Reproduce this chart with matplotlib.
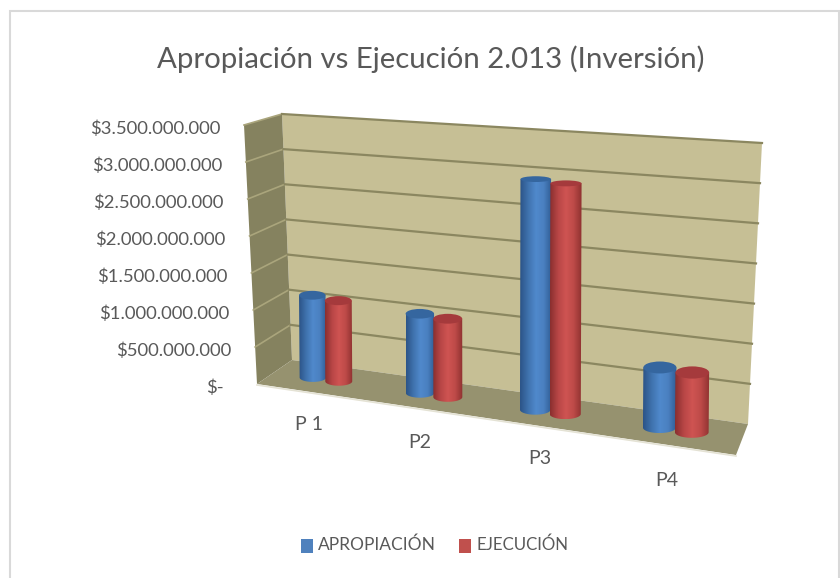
import matplotlib
matplotlib.use("Agg")
import matplotlib.pyplot as plt
import numpy as np
from matplotlib.colors import LinearSegmentedColormap
from matplotlib.patches import Ellipse, PathPatch, Polygon, Rectangle
from matplotlib.path import Path

plt.rcParams["font.family"] = ["Lato", "DejaVu Sans"]

categories = ["P 1", "P2", "P3", "P4"]
apropiacion = [1.13e9, 1.06e9, 3.0e9, 0.76e9]
ejecucion = [1.10e9, 1.04e9, 2.98e9, 0.75e9]
y_ticks = [0, 5e8, 1e9, 1.5e9, 2e9, 2.5e9, 3e9, 3.5e9]
y_labels = ["$-", "$500.000.000", "$1.000.000.000", "$1.500.000.000", "$2.000.000.000",
            "$2.500.000.000", "$3.000.000.000", "$3.500.000.000"]
y_max = 3.5e9

# corners of the 3d box in pixels
back_left = np.array([[292, 360], [282, 114]], dtype=float)
back_right = np.array([[748, 424], [762, 143]], dtype=float)
front_left = np.array([[257, 384], [244, 125]], dtype=float)
front_right = np.array([[736, 455], [751, 172]], dtype=float)

TEXT = "#595959"
WALL = "#c6bf95"
SIDE = "#85825f"
FLOOR = "#96926f"
GRID = "#8b8760"


def persp(u):
    return u / (u + 1.16 * (1 - u))


def project(u, depth, value):
    t = persp(u)
    w = value / y_max
    left = front_left[0] + (front_left[1] - front_left[0]) * w
    left2 = back_left[0] + (back_left[1] - back_left[0]) * w
    right = front_right[0] + (front_right[1] - front_right[0]) * w
    right2 = back_right[0] + (back_right[1] - back_right[0]) * w
    a = left + (left2 - left) * depth
    b = right + (right2 - right) * depth
    return a + (b - a) * t


def draw_cylinder(ax, u, value, colors, top_color):
    bottom = project(u, 0.5, 0)
    top = project(u, 0.5, value)
    # the cylinders hardly lean, unlike the walls
    top[0] = bottom[0] + (top[0] - bottom[0]) * 0.2
    rx = (project(u + 0.032, 0.5, 0)[0] - project(u - 0.032, 0.5, 0)[0]) / 2
    ry = rx * 0.33
    # tall cylinders show a flatter top
    ry_top = rx * (0.42 - 0.27 * value / y_max)

    angles = np.linspace(0, np.pi, 40)
    low = np.column_stack([bottom[0] + rx * np.cos(angles), bottom[1] + ry * np.sin(angles)])
    high = np.array([[top[0] - rx, top[1]], [top[0] + rx, top[1]]])
    verts = np.vstack([low, high, low[:1]])
    body = PathPatch(Path(verts), facecolor="none", edgecolor="none", zorder=3)
    ax.add_patch(body)

    cmap = LinearSegmentedColormap.from_list("c", colors)
    grad = np.linspace(0, 1, 64).reshape(1, -1)
    x0 = min(bottom[0], top[0]) - rx
    x1 = max(bottom[0], top[0]) + rx
    im = ax.imshow(grad, cmap=cmap, extent=[x0, x1, bottom[1] + ry, top[1]], aspect="auto", zorder=3)
    im.set_clip_path(body)
    ax.add_patch(Ellipse(top, 2 * rx, 2 * ry_top, facecolor=top_color, edgecolor="none", zorder=3))


fig = plt.figure(figsize=(8.4, 5.78), dpi=100)
ax = fig.add_axes([0, 0, 1, 1])

# chart border
ax.add_patch(Rectangle((10, 11), 829, 580, facecolor="white", edgecolor="#d9d9d9", linewidth=1.5))

# walls and floor
ax.add_patch(Polygon([back_left[0], back_left[1], back_right[1], back_right[0]], facecolor=WALL, edgecolor="none"))
ax.add_patch(Polygon([front_left[0], front_left[1], back_left[1], back_left[0]], facecolor=SIDE, edgecolor="none"))
ax.add_patch(Polygon([front_left[0], back_left[0], back_right[0], front_right[0]], facecolor=FLOOR, edgecolor="none"))
ax.plot([front_left[0][0], front_right[0][0]], [front_left[0][1] + 1, front_right[0][1] + 1], color="#e4e2d4", lw=1.2)

# gridlines and value labels
for tick, label in zip(y_ticks, y_labels):
    a = project(0, 0, tick)
    b = project(0, 1, tick)
    c = project(1, 1, tick)
    if tick > 0:
        ax.plot([a[0], b[0]], [a[1], b[1]], color="#aaa57c", lw=1.2, zorder=2)
        ax.plot([b[0], c[0]], [b[1], c[1]], color=GRID, lw=1.6, zorder=2)
    gap = 33 if tick == 0 else 24
    ax.text(a[0] - gap, a[1] + 4, label, ha="right", va="center", fontsize=13.3, color=TEXT)

# cylinders
centers = [(i + 0.5) / len(categories) for i in range(len(categories))]
blue = ["#2c5488", "#3f72ad", "#5089cc", "#4a80c0", "#2f5c94"]
red = ["#8a2f2f", "#b84646", "#cf5452", "#bd4a48", "#8e3130"]
for u, v1, v2 in zip(centers, apropiacion, ejecucion):
    draw_cylinder(ax, u - 0.031, v1, blue, "#35669f")
    draw_cylinder(ax, u + 0.031, v2, red, "#a53a3c")

# category labels
label_pos = [(309, 425), (420, 443), (540, 459), (667, 480)]
for name, pos in zip(categories, label_pos):
    ax.text(pos[0], pos[1], name, ha="center", va="center", fontsize=14, color=TEXT)

ax.text(431, 59, "Apropiación vs Ejecución 2.013 (Inversión)", ha="center", va="center", fontsize=21.2, color=TEXT)

# legend
ax.add_patch(Rectangle((301, 539), 12, 14, facecolor="#4f81bd", edgecolor="none"))
ax.text(318, 545, "APROPIACIÓN", ha="left", va="center", fontsize=12.5, color=TEXT)
ax.add_patch(Rectangle((459, 539), 12, 14, facecolor="#c0504d", edgecolor="none"))
ax.text(476, 545, "EJECUCIÓN", ha="left", va="center", fontsize=12.2, color=TEXT)

ax.set_xlim(0, 840)
ax.set_ylim(578, 0)
ax.axis("off")

fig.savefig("out.png", dpi=100)
